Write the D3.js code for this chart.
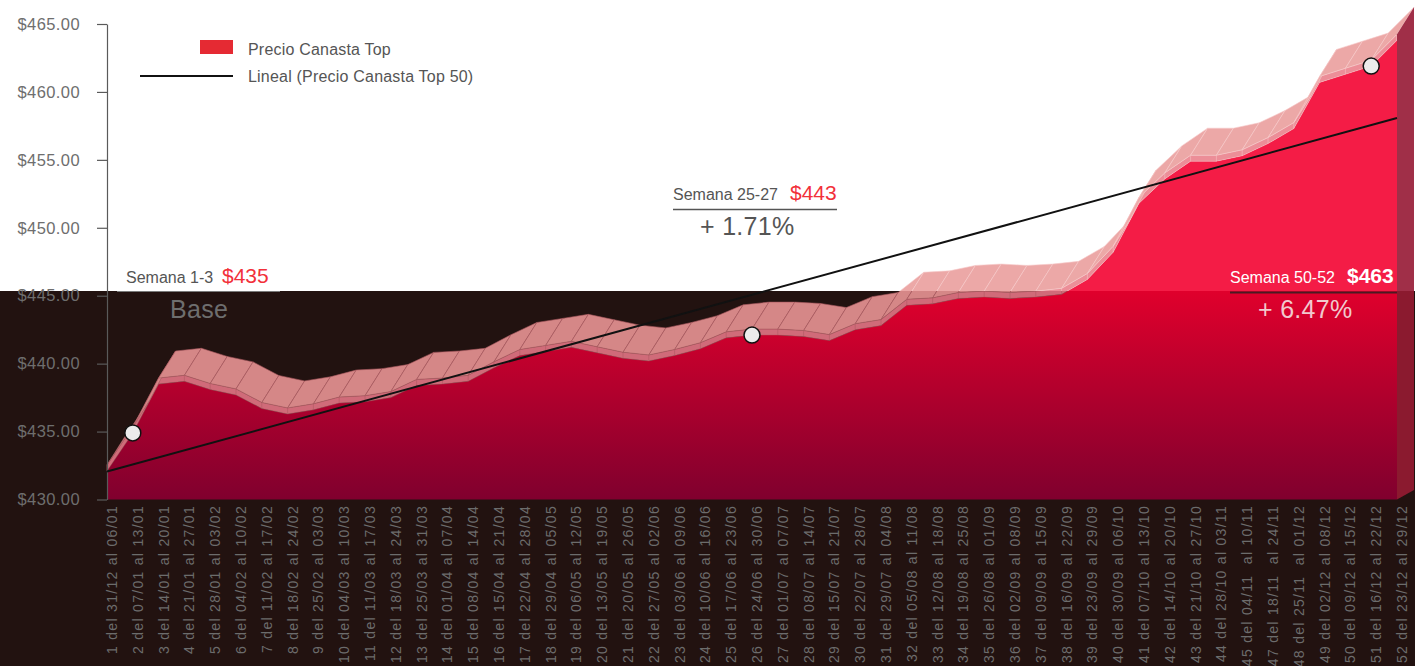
<!DOCTYPE html>
<html>
<head>
<meta charset="utf-8">
<script src="https://cdn.jsdelivr.net/npm/d3@7"></script>
<style>
  html, body { margin: 0; padding: 0; background: #ffffff; }
  svg { display: block; font-family: "Liberation Sans", Arial, Helvetica, sans-serif; }
</style>
</head>
<body>
<svg id="chart" width="1415" height="666"></svg>
<script>
// Weekly basket price (Precio Canasta Top 50) — week 46 has no record.
const weekLabels = [
  "1 del 31/12 al 06/01", "2 del 07/01 al 13/01", "3 del 14/01 al 20/01", "4 del 21/01 al 27/01",
  "5 del 28/01 al 03/02", "6 del 04/02 al 10/02", "7 del 11/02 al 17/02", "8 del 18/02 al 24/02",
  "9 del 25/02 al 03/03", "10 del 04/03 al 10/03", "11 del 11/03 al 17/03", "12 del 18/03 al 24/03",
  "13 del 25/03 al 31/03", "14 del 01/04 al 07/04", "15 del 08/04 al 14/04", "16 del 15/04 al 21/04",
  "17 del 22/04 al 28/04", "18 del 29/04 al 05/05", "19 del 06/05 al 12/05", "20 del 13/05 al 19/05",
  "21 del 20/05 al 26/05", "22 del 27/05 al 02/06", "23 del 03/06 al 09/06", "24 del 10/06 al 16/06",
  "25 del 17/06 al 23/06", "26 del 24/06 al 30/06", "27 del 01/07 al 07/07", "28 del 08/07 al 14/07",
  "29 del 15/07 al 21/07", "30 del 22/07 al 28/07", "31 del 29/07 al 04/08", "32 del 05/08 al 11/08",
  "33 del 12/08 al 18/08", "34 del 19/08 al 25/08", "35 del 26/08 al 01/09", "36 del 02/09 al 08/09",
  "37 del 09/09 al 15/09", "38 del 16/09 al 22/09", "39 del 23/09 al 29/09", "40 del 30/09 al 06/10",
  "41 del 07/10 al 13/10", "42 del 14/10 al 20/10", "43 del 21/10 al 27/10", "44 del 28/10 al 03/11",
  "45 del 04/11  al 10/11", "47 del 18/11  al 24/11", "48 del 25/11  al 01/12", "49 del 02/12 al 08/12",
  "50 del 09/12 al 15/12", "51 del 16/12 al 22/12", "52 del 23/12 al 29/12"
];

const prices = [
  432.1, 434.9, 438.5, 438.7, 438.1, 437.7, 436.7, 436.3, 436.6, 437.1,
  437.2, 437.5, 438.4, 438.5, 438.7, 439.7, 440.6, 440.9, 441.2, 440.8,
  440.4, 440.2, 440.6, 441.1, 441.9, 442.1, 442.1, 442.0, 441.7, 442.5,
  442.8, 444.3, 444.4, 444.8, 444.9, 444.8, 444.9, 445.1, 446.2, 448.2,
  451.8, 453.6, 454.9, 454.9, 455.3, 456.2, 457.3, 460.7, 461.3, 461.9,
  463.8
];

// Linear trend (start / end values)
const trendValues = [432.06, 458.08];

const yTicks = [430, 435, 440, 445, 450, 455, 460, 465];

// Weeks marked with a dot
const markedWeeks = ["2 del 07/01 al 13/01", "26 del 24/06 al 30/06", "51 del 16/12 al 22/12"];

const legendNames = ["Precio Canasta Top", "Lineal (Precio Canasta Top 50)"];

// ---------------------------------------------------------------
const W = 1415, H = 666;
const darkTop = 291;
const DX = 17, DY = -27, STRIP = 6;   // extrusion of the 3D ribbon

const svg = d3.select("#chart");

const x = d3.scalePoint().domain(weekLabels).range([107, 1397]);
const y = d3.scaleLinear().domain([430, 465]).range([499.5, 24]);

const pts = weekLabels.map((w, i) => ({ w, v: prices[i], px: x(w), py: y(prices[i]) }));

const defs = svg.append("defs");
defs.append("clipPath").attr("id", "clipLight")
  .append("rect").attr("x", 0).attr("y", 0).attr("width", W).attr("height", darkTop);
defs.append("clipPath").attr("id", "clipDark")
  .append("rect").attr("x", 0).attr("y", darkTop).attr("width", W).attr("height", H - darkTop);

const grad = defs.append("linearGradient").attr("id", "frontDark")
  .attr("gradientUnits", "userSpaceOnUse")
  .attr("x1", 0).attr("x2", 0).attr("y1", darkTop).attr("y2", y(430));
grad.append("stop").attr("offset", "0%").attr("stop-color", "#e0002c");
grad.append("stop").attr("offset", "100%").attr("stop-color", "#80002e");

// Backgrounds
svg.append("rect").attr("x", 0).attr("y", 0).attr("width", W).attr("height", darkTop).attr("fill", "#ffffff");
svg.append("rect").attr("x", 0).attr("y", darkTop).attr("width", W).attr("height", H - darkTop).attr("fill", "#221210");

function drawArea(g, pal) {
  const base = y(430);
  // front face
  g.append("path")
    .attr("d", d3.area().x(d => d.px).y0(base).y1(d => d.py)(pts))
    .attr("fill", pal.front);
  // bevel strip along the top edge
  g.append("path")
    .attr("d", d3.area().x(d => d.px).y0(d => d.py).y1(d => d.py - STRIP)(pts))
    .attr("fill", pal.strip)
    .attr("stroke", pal.grid).attr("stroke-width", 0.4);
  pts.forEach(d => {
    g.append("line")
      .attr("x1", d.px).attr("x2", d.px)
      .attr("y1", d.py).attr("y2", d.py - STRIP)
      .attr("stroke", pal.grid).attr("stroke-width", 0.5);
  });
  // top face, one panel per segment
  d3.pairs(pts).forEach(([a, b]) => {
    const ya = a.py - STRIP, yb = b.py - STRIP;
    g.append("path")
      .attr("d", `M${a.px},${ya}L${b.px},${yb}L${b.px + DX},${yb + DY}L${a.px + DX},${ya + DY}Z`)
      .attr("fill", pal.top)
      .attr("stroke", pal.grid).attr("stroke-width", 0.6)
      .attr("stroke-linejoin", "round");
  });
  // right side face
  const last = pts[pts.length - 1];
  g.append("path")
    .attr("d", `M${last.px},${last.py - STRIP}L${last.px + DX},${last.py - STRIP + DY}L${last.px + DX},${base + DY * 0.35}L${last.px},${base}Z`)
    .attr("fill", pal.side);
}

drawArea(svg.append("g").attr("clip-path", "url(#clipLight)"), {
  front: "#f41c46", strip: "#ec8e98", top: "#eca8a7", grid: "#f6c9c9", side: "#a02f48"
});
drawArea(svg.append("g").attr("clip-path", "url(#clipDark)"), {
  front: "url(#frontDark)", strip: "#d06b79", top: "#d58787", grid: "#a8585e", side: "#8b1a2f"
});

// Y axis
const yAxis = d3.axisLeft(y)
  .tickValues(yTicks)
  .tickFormat(d => "$" + d.toFixed(2))
  .tickSize(10).tickSizeOuter(0).tickPadding(17);
const gy = svg.append("g").attr("transform", "translate(107,0)").call(yAxis);
gy.select(".domain").attr("stroke", "#5a5a5a").attr("stroke-width", 1.2);
gy.selectAll(".tick line").attr("stroke", "#5a5a5a").attr("stroke-width", 1.2);
gy.selectAll(".tick text")
  .attr("fill", "#6e6e6e")
  .style("font-size", "16.5px")
  .style("letter-spacing", "0.4px")
  .style("font-family", "'Liberation Sans', Arial, sans-serif");

// Category labels
svg.append("g").selectAll("text")
  .data(weekLabels)
  .join("text")
  .attr("transform", d => `translate(${x(d) + 5},505) rotate(-90)`)
  .attr("text-anchor", "end")
  .attr("dy", "0.35em")
  .attr("fill", "#6c6c6c")
  .style("font-size", "14px")
  .style("letter-spacing", "1.3px")
  .style("white-space", "pre")
  .text(d => d);

// Trend line
svg.append("line")
  .attr("x1", x(weekLabels[0])).attr("y1", y(trendValues[0]))
  .attr("x2", x(weekLabels[weekLabels.length - 1])).attr("y2", y(trendValues[1]))
  .attr("stroke", "#111").attr("stroke-width", 2);

// Marked weeks
svg.append("g").selectAll("circle")
  .data(pts.filter(d => markedWeeks.includes(d.w)))
  .join("circle")
  .attr("cx", d => d.px).attr("cy", d => d.py)
  .attr("r", 8)
  .attr("fill", "#ececec")
  .attr("stroke", "#111").attr("stroke-width", 1.5);

// Legend
const lg = svg.append("g");
lg.append("rect").attr("x", 200).attr("y", 40).attr("width", 33).attr("height", 14).attr("fill", "#e52a33");
lg.append("text").attr("x", 248).attr("y", 55).text(legendNames[0]);
lg.append("line").attr("x1", 140).attr("x2", 233).attr("y1", 76).attr("y2", 76).attr("stroke", "#111").attr("stroke-width", 2);
lg.append("text").attr("x", 248).attr("y", 82).text(legendNames[1]);
lg.selectAll("text").attr("fill", "#555").style("font-size", "16px").style("letter-spacing", "0.2px");

// Callouts
function callout(cfg) {
  const g = svg.append("g");
  const t = g.append("text").attr("x", cfg.x).attr("y", cfg.y);
  t.append("tspan").attr("fill", cfg.labelColor).style("font-size", "16px").text(cfg.label);
  t.append("tspan").attr("x", cfg.vx).attr("fill", cfg.valueColor)
    .style("font-size", "21px").style("font-weight", cfg.bold ? "bold" : "normal").text(cfg.value);
  g.append("line").attr("x1", cfg.lx1).attr("x2", cfg.lx2).attr("y1", cfg.ly).attr("y2", cfg.ly)
    .attr("stroke", cfg.lineColor).attr("stroke-width", cfg.lineWidth);
  if (cfg.sub) {
    g.append("text").attr("x", cfg.sx).attr("y", cfg.sy)
      .attr("fill", cfg.subColor).style("font-size", "25px").style("letter-spacing", "0.3px").text(cfg.sub);
  }
}

callout({ x: 126, y: 283, label: "Semana 1-3", vx: 222, value: "$435", labelColor: "#555", valueColor: "#f2303a",
  lx1: 117, lx2: 280, ly: 291.5, lineColor: "#7a7a7a", lineWidth: 1,
  sub: "Base", sx: 170, sy: 318, subColor: "#6e6e6e" });

callout({ x: 673, y: 200, label: "Semana 25-27", vx: 790, value: "$443", labelColor: "#555", valueColor: "#f2303a",
  lx1: 673, lx2: 837, ly: 209.5, lineColor: "#555", lineWidth: 1.3,
  sub: "+ 1.71%", sx: 700, sy: 235, subColor: "#555" });

callout({ x: 1230, y: 283, label: "Semana 50-52", vx: 1347, value: "$463", labelColor: "#ffffff", valueColor: "#ffffff", bold: true,
  lx1: 1230, lx2: 1397, ly: 292.5, lineColor: "#4a1a22", lineWidth: 2,
  sub: "+ 6.47%", sx: 1258, sy: 318, subColor: "#f1c9ce" });
</script>
</body>
</html>
